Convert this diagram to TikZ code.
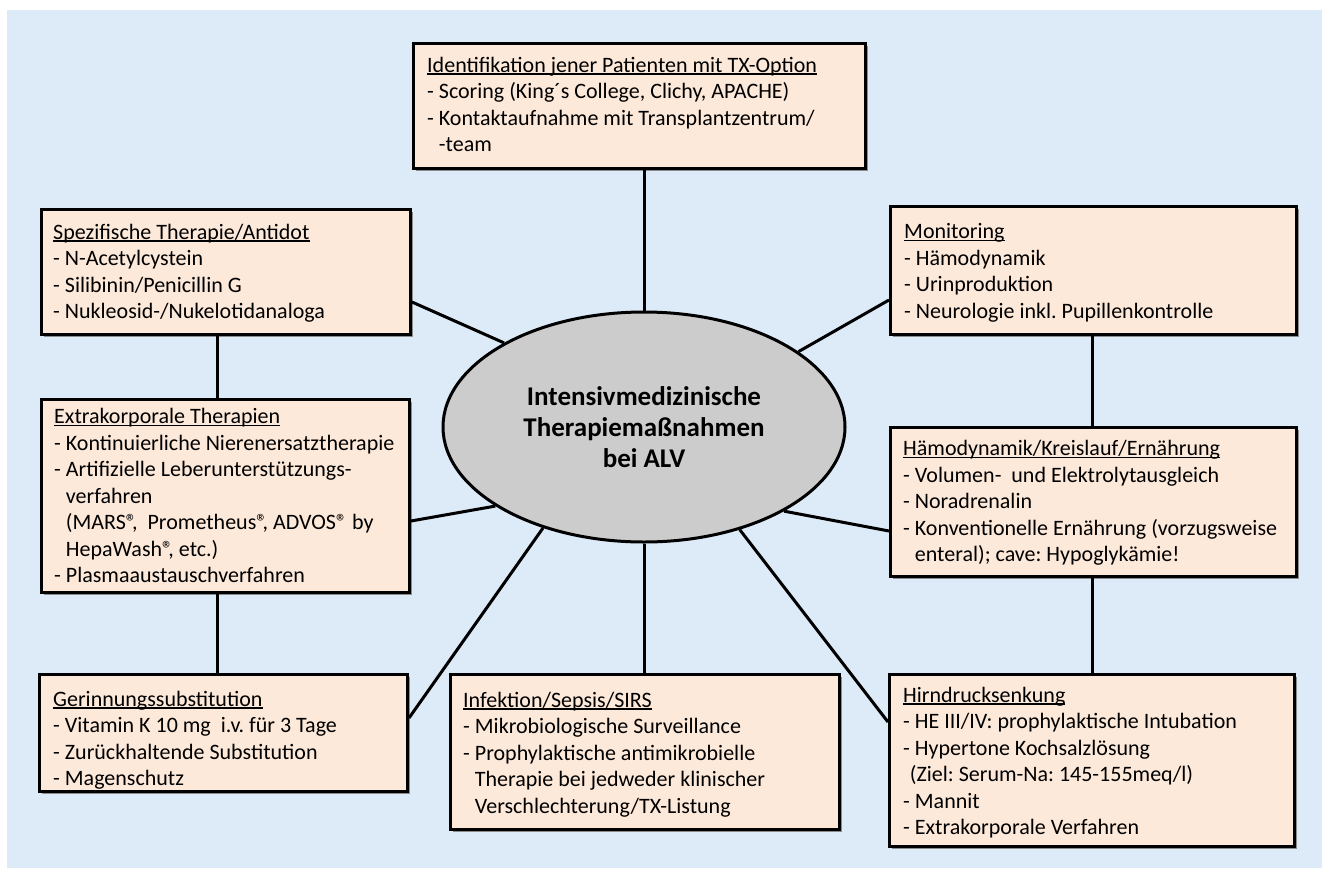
\documentclass[tikz,border=0pt]{standalone}
\usepackage{fontspec}
\setmainfont{Carlito}
\frenchspacing
\usetikzlibrary{shapes.geometric,shadows,calc}
\definecolor{bgblue}{RGB}{221,234,248}
\definecolor{boxfill}{RGB}{253,233,218}
\definecolor{ellfill}{RGB}{204,204,204}
\newcommand\mytitle[1]{\strut\setbox0\hbox{#1}\rlap{\rule[-2.6pt]{\wd0}{1.4pt}}\box0}
\newcommand\myreg{®\kern-0.22em}
\tikzset{
  box/.style={draw=black, line width=3pt, fill=boxfill, rectangle, inner sep=0pt, anchor=north west,
    drop shadow={shadow xshift=2.5pt, shadow yshift=-2.5pt, fill=black!45, opacity=1}},
  txt/.style={anchor=north west, inner sep=0pt, align=left, font=\fontsize{22pt}{26.5pt}\selectfont},
  conn/.style={line width=3pt, line cap=butt},
}
\begin{document}
\begin{tikzpicture}[x=1pt,y=-1pt]
\useasboundingbox (0,0) rectangle (1322,868);
\fill[white] (0,0) rectangle (1322,868);
\fill[bgblue] (7,10) rectangle (1322,868);

% boxes
\node[box, minimum width=452pt, minimum height=125pt] (top) at (412,42) {};
\node[box, minimum width=369pt, minimum height=125pt] (spec) at (40,208) {};
\node[box, minimum width=406pt, minimum height=128pt] (mon) at (889,205) {};
\node[box, minimum width=368pt, minimum height=193pt] (extra) at (40,398) {};
\node[box, minimum width=406pt, minimum height=149pt] (hamo) at (889,426) {};
\node[box, minimum width=368pt, minimum height=117pt] (ger) at (38,673) {};
\node[box, minimum width=389pt, minimum height=155pt] (inf) at (449,673) {};
\node[box, minimum width=405pt, minimum height=172pt] (hirn) at (888,673) {};

% texts
\node[txt] (topT) at ($(top.north west)+(15,11.5)$) {\mytitle{Identifikation jener Patienten mit TX-Option}\\
- Scoring (King´s College, Clichy, APACHE)\\
- Kontaktaufnahme mit Transplantzentrum/\\
\phantom{- }-team};

\node[txt] (specT) at ($(spec.north west)+(13,12.5)$) {\mytitle{Spezifische Therapie/Antidot}\\
- N-Acetylcystein\\
- Silibinin/Penicillin G\\
- Nukleosid-/Nukelotidanaloga};

\node[txt] (monT) at ($(mon.north west)+(15,15)$) {\mytitle{Monitoring}\\
- Hämodynamik\\
- Urinproduktion\\
- Neurologie inkl. Pupillenkontrolle};

\node[txt] (extraT) at ($(extra.north west)+(14,7)$) {\mytitle{Extrakorporale Therapien}\\
- Kontinuierliche Nierenersatztherapie\\
- Artifizielle Leberunterstützungs-\\
\phantom{- }verfahren\\
\phantom{- }(MARS\myreg,\ \ Prometheus\myreg, ADVOS® by\\
\phantom{- }HepaWash\myreg, etc.)\\
- Plasmaaustauschverfahren};

\node[txt] (hamoT) at ($(hamo.north west)+(14,11)$) {\mytitle{Hämodynamik/Kreislauf/Ernährung}\\
- Volumen-\ \ und Elektrolytausgleich\\
- Noradrenalin\\
- Konventionelle Ernährung (vorzugsweise\\
\phantom{- }enteral); cave: Hypoglykämie!};

\node[txt] (gerT) at ($(ger.north west)+(15,14.5)$) {\mytitle{Gerinnungssubstitution}\\
- Vitamin K 10 mg\ \ i.v. für 3 Tage\\
- Zurückhaltende Substitution\\
- Magenschutz};

\node[txt] (infT) at ($(inf.north west)+(14,15.5)$) {\mytitle{Infektion/Sepsis/SIRS}\\
- Mikrobiologische Surveillance\\
- Prophylaktische antimikrobielle\\
\phantom{- }Therapie bei jedweder klinischer\\
\phantom{- }Verschlechterung/TX-Listung};

\node[txt] (hirnT) at ($(hirn.north west)+(15,10.5)$) {\mytitle{Hirndrucksenkung}\\
- HE III/IV: prophylaktische Intubation\\
- Hypertone Kochsalzlösung\\
\phantom{-}(Ziel: Serum-Na: 145-155meq/l)\\
- Mannit\\
- Extrakorporale Verfahren};

% central ellipse
\node[ellipse, draw=black, line width=3pt, fill=ellfill, minimum width=402pt, minimum height=230pt,
  inner sep=0pt, align=center, font=\bfseries\fontsize{27pt}{31pt}\selectfont] (ell) at (644,427)
  {Intensivmedizinische\\Therapiemaßnahmen\\bei ALV};

% connector end points on boxes
\coordinate (specR) at ($(spec.north east)+(0,94)$);
\coordinate (monL) at ($(mon.north west)+(0,95)$);
\coordinate (extraR) at ($(extra.north east)+(0,123)$);
\coordinate (hamoL) at ($(hamo.north west)+(0,105)$);
\coordinate (gerR) at ($(ger.north east)+(0,45)$);
\coordinate (hirnL) at ($(hirn.north west)+(0,49)$);

% connectors
\draw[conn] (top.south -| ell.north) -- (ell.north);
\draw[conn] (specR) -- (ell.149.4);
\draw[conn] (monL) -- (ell.26.1);
\draw[conn] (extraR) -- (ell.208.8);
\draw[conn] (hamoL) -- (ell.329.8);
\draw[conn] (gerR) -- (ell.225.3);
\draw[conn] (hirnL) -- (ell.313.8);
\draw[conn] (ell.south) -- (ell.south |- inf.north);
\draw[conn] ($(spec.south west)+(177,0)$) -- ($(extra.north west)+(177,0)$);
\draw[conn] ($(extra.south west)+(177,0)$) -- ($(ger.north west)+(179,0)$);
\draw[conn] ($(mon.south west)+(203,0)$) -- ($(hamo.north west)+(203,0)$);
\draw[conn] ($(hamo.south west)+(203,0)$) -- ($(hirn.north west)+(204,0)$);
\end{tikzpicture}
\end{document}
